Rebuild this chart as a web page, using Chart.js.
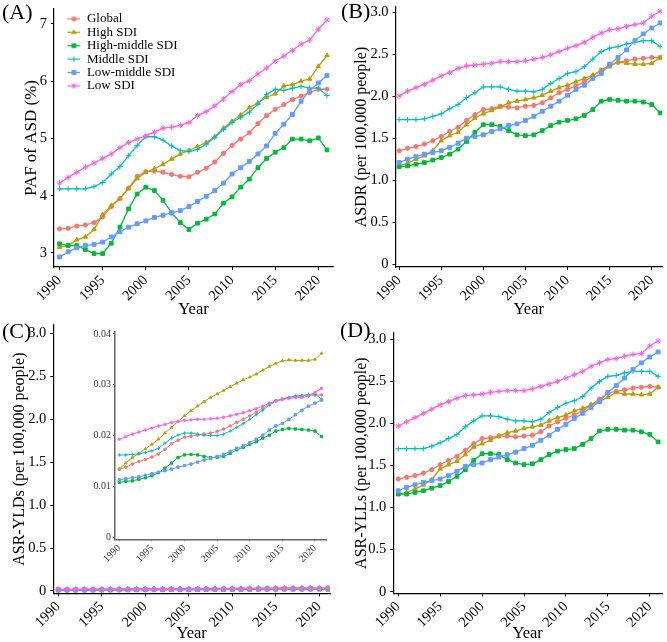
<!DOCTYPE html>
<html>
<head>
<meta charset="utf-8">
<title>ASD burden by SDI</title>
<script src="https://cdn.jsdelivr.net/npm/chart.js@4.4.1/dist/chart.umd.min.js"></script>
<style>
  body { margin: 0; background: #fff; }
  #wrap { position: relative; width: 667px; height: 642px; overflow: hidden; font-family: 'Liberation Serif', 'Times New Roman', serif; }
  #wrap canvas { position: absolute; }
  .tag { position: absolute; font-size: 22px; line-height: 22px; color: #000; }
</style>
</head>
<body>
<div id="wrap">
  <canvas id="chartA" width="340" height="318" style="left:0;top:0"></canvas>
  <canvas id="chartB" width="337" height="318" style="left:330px;top:0"></canvas>
  <canvas id="chartC" width="340" height="332" style="left:0;top:310px"></canvas>
  <canvas id="chartD" width="337" height="332" style="left:330px;top:310px"></canvas>
  <canvas id="chartInset" width="270" height="255" style="left:70px;top:325px"></canvas>
  <div class="tag" style="left:2px;top:1px">(A)</div>
  <div class="tag" style="left:341px;top:0px">(B)</div>
  <div class="tag" style="left:2px;top:320px">(C)</div>
  <div class="tag" style="left:340px;top:319px">(D)</div>
</div>
<script>
// categorias y series
const years = [1990, 1991, 1992, 1993, 1994, 1995, 1996, 1997, 1998, 1999, 2000, 2001, 2002, 2003, 2004, 2005,
    2006, 2007, 2008, 2009, 2010, 2011, 2012, 2013, 2014, 2015, 2016, 2017, 2018, 2019, 2020, 2021];
const regions = ['Global', 'High SDI', 'High-middle SDI', 'Middle SDI', 'Low-middle SDI', 'Low SDI'];
const yearTicks = [1990, 1995, 2000, 2005, 2010, 2015, 2020];

// (A) PAF of ASD (%)
const pafGlobal = [3.42, 3.43, 3.47, 3.49, 3.53, 3.63, 3.81, 3.95, 4.13, 4.34, 4.42, 4.43, 4.41, 4.37, 4.34, 4.33, 4.41, 4.48, 4.59, 4.74, 4.88, 4.99, 5.10, 5.26, 5.40, 5.51, 5.59, 5.68, 5.74, 5.80, 5.86, 5.86];
const pafHigh = [3.10, 3.13, 3.23, 3.28, 3.41, 3.67, 3.83, 3.95, 4.13, 4.30, 4.41, 4.47, 4.55, 4.64, 4.73, 4.79, 4.86, 4.93, 5.03, 5.18, 5.30, 5.41, 5.54, 5.62, 5.72, 5.78, 5.92, 5.94, 6.00, 6.04, 6.26, 6.45];
const pafHighMiddle = [3.16, 3.13, 3.13, 3.06, 2.99, 2.99, 3.17, 3.45, 3.77, 4.03, 4.15, 4.09, 3.92, 3.70, 3.53, 3.41, 3.52, 3.59, 3.68, 3.87, 3.98, 4.15, 4.29, 4.49, 4.65, 4.76, 4.84, 4.99, 4.99, 4.96, 5.01, 4.80];
const pafMiddle = [4.12, 4.12, 4.12, 4.12, 4.16, 4.23, 4.38, 4.51, 4.70, 4.88, 5.03, 5.03, 4.97, 4.87, 4.79, 4.77, 4.81, 4.90, 5.02, 5.16, 5.28, 5.37, 5.46, 5.60, 5.77, 5.86, 5.84, 5.88, 5.91, 5.88, 5.88, 5.75];
const pafLowMiddle = [2.93, 3.02, 3.09, 3.13, 3.15, 3.19, 3.28, 3.37, 3.45, 3.51, 3.56, 3.62, 3.66, 3.70, 3.74, 3.81, 3.90, 3.99, 4.09, 4.22, 4.38, 4.49, 4.60, 4.73, 4.87, 5.09, 5.25, 5.42, 5.65, 5.84, 5.97, 6.10];
const pafLow = [4.22, 4.32, 4.41, 4.50, 4.57, 4.65, 4.73, 4.84, 4.93, 4.99, 5.05, 5.11, 5.18, 5.20, 5.23, 5.28, 5.40, 5.47, 5.57, 5.69, 5.82, 5.94, 6.01, 6.13, 6.23, 6.35, 6.44, 6.54, 6.65, 6.72, 6.91, 7.07];

// (B) ASDR
const asdrGlobal = [1.35, 1.38, 1.40, 1.43, 1.47, 1.52, 1.58, 1.63, 1.71, 1.78, 1.84, 1.85, 1.88, 1.87, 1.86, 1.88, 1.89, 1.92, 1.98, 2.04, 2.08, 2.12, 2.17, 2.24, 2.31, 2.37, 2.40, 2.42, 2.44, 2.45, 2.46, 2.46];
const asdrHigh = [1.17, 1.20, 1.25, 1.29, 1.35, 1.47, 1.53, 1.57, 1.66, 1.74, 1.79, 1.83, 1.87, 1.92, 1.94, 1.96, 1.98, 2.01, 2.06, 2.10, 2.13, 2.17, 2.21, 2.25, 2.30, 2.35, 2.41, 2.39, 2.38, 2.38, 2.39, 2.46];
const asdrHighMiddle = [1.16, 1.17, 1.19, 1.21, 1.24, 1.27, 1.31, 1.37, 1.46, 1.57, 1.66, 1.66, 1.64, 1.59, 1.54, 1.53, 1.54, 1.59, 1.65, 1.69, 1.71, 1.73, 1.77, 1.84, 1.94, 1.96, 1.95, 1.94, 1.94, 1.93, 1.90, 1.80];
const asdrMiddle = [1.72, 1.72, 1.72, 1.73, 1.76, 1.79, 1.85, 1.90, 1.98, 2.04, 2.11, 2.11, 2.11, 2.08, 2.06, 2.06, 2.05, 2.08, 2.15, 2.21, 2.27, 2.29, 2.35, 2.44, 2.53, 2.57, 2.59, 2.62, 2.64, 2.66, 2.66, 2.59];
const asdrLowMiddle = [1.21, 1.25, 1.28, 1.31, 1.33, 1.35, 1.39, 1.44, 1.50, 1.52, 1.54, 1.58, 1.61, 1.65, 1.67, 1.71, 1.76, 1.82, 1.88, 1.94, 2.01, 2.08, 2.13, 2.21, 2.27, 2.38, 2.46, 2.55, 2.66, 2.74, 2.81, 2.87];
const asdrLow = [2.00, 2.06, 2.10, 2.14, 2.19, 2.24, 2.28, 2.33, 2.36, 2.37, 2.38, 2.39, 2.41, 2.41, 2.41, 2.42, 2.44, 2.46, 2.49, 2.53, 2.57, 2.60, 2.64, 2.70, 2.75, 2.79, 2.80, 2.83, 2.85, 2.87, 2.95, 3.01];

// (C) ASR-YLDs
const yldGlobal = [0.0134, 0.0138, 0.0144, 0.0149, 0.0153, 0.0158, 0.0164, 0.0173, 0.0184, 0.0191, 0.0197, 0.0199, 0.0201, 0.0203, 0.0205, 0.0208, 0.0213, 0.0219, 0.0226, 0.0232, 0.0239, 0.0246, 0.0254, 0.0262, 0.0269, 0.0272, 0.0275, 0.0277, 0.0278, 0.0279, 0.0280, 0.0280];
const yldHigh = [0.0134, 0.0146, 0.0157, 0.0165, 0.0174, 0.0183, 0.0193, 0.0205, 0.0216, 0.0228, 0.0239, 0.0249, 0.0258, 0.0267, 0.0275, 0.0282, 0.0289, 0.0296, 0.0303, 0.0310, 0.0315, 0.0321, 0.0329, 0.0336, 0.0342, 0.0347, 0.0349, 0.0348, 0.0348, 0.0348, 0.0350, 0.0362];
const yldHighMiddle = [0.0108, 0.0110, 0.0111, 0.0114, 0.0117, 0.0121, 0.0127, 0.0136, 0.0146, 0.0157, 0.0162, 0.0163, 0.0162, 0.0159, 0.0157, 0.0157, 0.0159, 0.0165, 0.0172, 0.0177, 0.0183, 0.0188, 0.0195, 0.0201, 0.0209, 0.0212, 0.0214, 0.0213, 0.0212, 0.0211, 0.0209, 0.0198];
const yldMiddle = [0.0162, 0.0162, 0.0163, 0.0164, 0.0167, 0.0170, 0.0175, 0.0185, 0.0195, 0.0201, 0.0205, 0.0205, 0.0203, 0.0201, 0.0200, 0.0200, 0.0203, 0.0209, 0.0216, 0.0224, 0.0232, 0.0241, 0.0250, 0.0260, 0.0268, 0.0272, 0.0275, 0.0278, 0.0279, 0.0281, 0.0282, 0.0272];
const yldLowMiddle = [0.0113, 0.0115, 0.0117, 0.0119, 0.0122, 0.0125, 0.0128, 0.0131, 0.0134, 0.0138, 0.0141, 0.0144, 0.0148, 0.0152, 0.0155, 0.0159, 0.0163, 0.0169, 0.0175, 0.0180, 0.0186, 0.0193, 0.0201, 0.0211, 0.0219, 0.0224, 0.0232, 0.0241, 0.0250, 0.0258, 0.0264, 0.0270];
const yldLow = [0.0193, 0.0198, 0.0203, 0.0207, 0.0211, 0.0215, 0.0219, 0.0222, 0.0226, 0.0228, 0.0230, 0.0231, 0.0232, 0.0232, 0.0233, 0.0234, 0.0236, 0.0239, 0.0242, 0.0245, 0.0249, 0.0253, 0.0258, 0.0264, 0.0268, 0.0271, 0.0273, 0.0275, 0.0275, 0.0278, 0.0285, 0.0293];

// (D) ASR-YLLs
const yllGlobal = [1.34, 1.36, 1.38, 1.41, 1.45, 1.51, 1.56, 1.61, 1.68, 1.76, 1.82, 1.83, 1.85, 1.85, 1.84, 1.85, 1.86, 1.90, 1.97, 2.02, 2.06, 2.10, 2.15, 2.22, 2.29, 2.36, 2.38, 2.40, 2.42, 2.43, 2.44, 2.43];
const yllHigh = [1.16, 1.18, 1.22, 1.27, 1.33, 1.46, 1.51, 1.55, 1.63, 1.72, 1.76, 1.80, 1.85, 1.89, 1.91, 1.94, 1.96, 1.98, 2.03, 2.07, 2.10, 2.15, 2.18, 2.22, 2.26, 2.31, 2.37, 2.35, 2.35, 2.34, 2.35, 2.43];
const yllHighMiddle = [1.16, 1.16, 1.18, 1.20, 1.23, 1.26, 1.31, 1.37, 1.45, 1.56, 1.64, 1.64, 1.63, 1.57, 1.53, 1.51, 1.52, 1.57, 1.63, 1.67, 1.69, 1.70, 1.75, 1.82, 1.91, 1.93, 1.93, 1.92, 1.92, 1.90, 1.87, 1.78];
const yllMiddle = [1.70, 1.70, 1.70, 1.70, 1.73, 1.77, 1.82, 1.87, 1.96, 2.03, 2.09, 2.09, 2.08, 2.05, 2.03, 2.03, 2.02, 2.05, 2.13, 2.19, 2.24, 2.27, 2.32, 2.42, 2.50, 2.56, 2.57, 2.60, 2.62, 2.62, 2.62, 2.56];
const yllLowMiddle = [1.20, 1.24, 1.27, 1.30, 1.32, 1.34, 1.38, 1.43, 1.49, 1.51, 1.53, 1.57, 1.60, 1.63, 1.66, 1.70, 1.74, 1.80, 1.86, 1.93, 1.99, 2.06, 2.12, 2.19, 2.26, 2.37, 2.45, 2.54, 2.64, 2.72, 2.79, 2.85];
const yllLow = [1.97, 2.02, 2.07, 2.12, 2.17, 2.22, 2.26, 2.30, 2.33, 2.34, 2.35, 2.37, 2.38, 2.39, 2.39, 2.39, 2.41, 2.44, 2.47, 2.50, 2.54, 2.58, 2.62, 2.68, 2.72, 2.76, 2.77, 2.80, 2.82, 2.83, 2.92, 2.98];

// ticks
const pafTicks = [3, 4, 5, 6, 7];
const pafTickLabels = ['3', '4', '5', '6', '7'];
const rateTicks = [0, 0.5, 1, 1.5, 2, 2.5, 3];
const rateTickLabels = ['0', '0.5', '1.0', '1.5', '2.0', '2.5', '3.0'];
const insetTicks = [0, 0.01, 0.02, 0.03, 0.04];
const insetTickLabels = ['0', '0.01', '0.02', '0.03', '0.04'];

// estilos
const colors = ['#F8766D', '#B79F00', '#00BA38', '#00BFC4', '#619CFF', '#F564E3'];
const pointStyles = ['circle', 'triangle', 'rect', 'cross', 'rect', 'star'];
const pointScale = [1, 1.2, 1.25, 1.3, 1.3, 1.35];
const FONT = "'Liberation Serif', 'Times New Roman', serif";

function buildDatasets(series, inset) {
    return series.map((vals, i) => ({
        label: regions[i],
        data: vals.map((v, j) => ({x: years[j], y: v})),
        borderColor: colors[i],
        backgroundColor: colors[i],
        pointStyle: pointStyles[i],
        pointRadius: (inset ? 1.3 : 2.1) * pointScale[i],
        pointBorderWidth: 1,
        borderWidth: inset ? 1 : 1.3,
        tension: 0,
        order: series.length - i
    }));
}

// iconos de la leyenda: linea + marcador
function makeIcon(i) {
    const c = document.createElement('canvas');
    c.width = 26;
    c.height = 13;
    const ctx = c.getContext('2d');
    ctx.strokeStyle = colors[i];
    ctx.fillStyle = colors[i];
    ctx.lineWidth = 1.3;
    ctx.beginPath();
    ctx.moveTo(13, 6.5);
    ctx.lineTo(26, 6.5);
    ctx.stroke();
    ctx.lineWidth = 1;
    if (Chart.helpers && Chart.helpers.drawPoint) {
        Chart.helpers.drawPoint(ctx, {pointStyle: pointStyles[i], radius: 2.1 * pointScale[i], borderWidth: 1, rotation: 0}, 19.5, 6.5);
    } else {
        ctx.beginPath();
        ctx.arc(19.5, 6.5, 2.2, 0, Math.PI * 2);
        ctx.fill();
    }
    return c;
}
const legendIcons = regions.map((r, i) => makeIcon(i));

function makeChart(id, series, cfg) {
    const axisColor = cfg.inset ? '#666' : '#000';
    const tickColor = cfg.inset ? '#333' : '#000';
    const tickSize = cfg.inset ? 10 : 14.5;
    const ctx = document.getElementById(id).getContext('2d');
    return new Chart(ctx, {
        type: 'line',
        data: {datasets: buildDatasets(series, cfg.inset)},
        options: {
            responsive: false,
            animation: false,
            devicePixelRatio: 1,
            layout: {padding: cfg.padding},
            plugins: {
                tooltip: {enabled: false},
                legend: cfg.legend ? {
                    display: true,
                    position: 'chartArea',
                    align: 'start',
                    // titulo vacio solo para bajar la leyenda
                    title: {display: true, text: ' ', font: {size: 1, lineHeight: 1}, padding: {top: 11, bottom: 0}},
                    labels: {
                        usePointStyle: true,
                        pointStyleWidth: 26,
                        boxHeight: 13,
                        padding: 0.4,
                        color: '#000',
                        font: {family: FONT, size: 13},
                        sort: (a, b) => a.datasetIndex - b.datasetIndex,
                        generateLabels: chart => Chart.defaults.plugins.legend.labels.generateLabels(chart)
                            .map(it => Object.assign(it, {pointStyle: legendIcons[it.datasetIndex]}))
                    }
                } : {display: false}
            },
            scales: {
                x: {
                    type: 'linear',
                    min: cfg.xMin,
                    max: cfg.xMax,
                    afterBuildTicks: s => { s.ticks = yearTicks.map(v => ({value: v})); },
                    afterFit: s => { s.height = cfg.xH; s.paddingLeft = 0; s.paddingRight = 0; },
                    ticks: {
                        autoSkip: false,
                        minRotation: 45,
                        maxRotation: 45,
                        padding: cfg.inset ? 1 : 2,
                        color: tickColor,
                        font: {family: FONT, size: tickSize},
                        callback: v => String(v)
                    },
                    grid: {drawOnChartArea: false, drawTicks: true, tickLength: cfg.inset ? 2 : 3, color: axisColor},
                    border: {display: true, color: axisColor, width: cfg.inset ? 1.5 : 1.2},
                    title: {
                        display: !cfg.inset,
                        text: 'Year',
                        color: '#000',
                        padding: 0,
                        font: {family: FONT, size: 16.5, lineHeight: 1}
                    }
                },
                y: {
                    type: 'linear',
                    min: cfg.yMin,
                    max: cfg.yMax,
                    afterBuildTicks: s => { s.ticks = cfg.yTicks.map(v => ({value: v})); },
                    afterFit: s => { s.width = cfg.yW; s.paddingTop = 0; s.paddingBottom = 0; },
                    ticks: {
                        padding: cfg.inset ? 2 : 4,
                        color: tickColor,
                        font: {family: FONT, size: tickSize},
                        callback: (v, i) => cfg.yLabels[i]
                    },
                    grid: {drawOnChartArea: false, drawTicks: true, tickLength: cfg.inset ? 2 : 3, color: axisColor},
                    border: {display: true, color: axisColor, width: cfg.inset ? 1.5 : 1.2},
                    title: {
                        display: !!cfg.yTitle,
                        text: cfg.yTitle,
                        color: '#000',
                        padding: 0,
                        font: {family: FONT, size: cfg.yTitleSize || 16, lineHeight: 1}
                    }
                }
            }
        }
    });
}

// (A)
makeChart('chartA', [pafGlobal, pafHigh, pafHighMiddle, pafMiddle, pafLowMiddle, pafLow], {
    padding: {left: 23, top: 9, right: 7, bottom: 0}, yW: 31, xH: 51,
    xMin: 1989.36, xMax: 2021.7, yMin: 2.755, yMax: 7.262,
    yTicks: pafTicks, yLabels: pafTickLabels, yTitle: 'PAF of ASD (%)', yTitleSize: 17, legend: true
});

// (B)
makeChart('chartB', [asdrGlobal, asdrHigh, asdrHighMiddle, asdrMiddle, asdrLowMiddle, asdrLow], {
    padding: {left: 24, top: 7, right: 4, bottom: 0}, yW: 41.5, xH: 51,
    xMin: 1989.57, xMax: 2021.22, yMin: -0.032, yMax: 3.06,
    yTicks: rateTicks, yLabels: rateTickLabels, yTitle: 'ASDR (per 100,000 people)'
});

// (C) panel completo
makeChart('chartC', [yldGlobal, yldHigh, yldHighMiddle, yldMiddle, yldLowMiddle, yldLow], {
    padding: {left: 12, top: 15, right: 10, bottom: 0}, yW: 41.3, xH: 48.7,
    xMin: 1989.43, xMax: 2021.23, yMin: -0.027, yMax: 3.097,
    yTicks: rateTicks, yLabels: rateTickLabels, yTitle: 'ASR-YLDs (per 100,000 people)'
});

// (D)
makeChart('chartD', [yllGlobal, yllHigh, yllHighMiddle, yllMiddle, yllLowMiddle, yllLow], {
    padding: {left: 23.7, top: 23, right: 4, bottom: 0}, yW: 39.6, xH: 48.7,
    xMin: 1989.41, xMax: 2021.46, yMin: -0.019, yMax: 3.075,
    yTicks: rateTicks, yLabels: rateTickLabels, yTitle: 'ASR-YLLs (per 100,000 people)'
});

// (C) recuadro ampliado
makeChart('chartInset', [yldGlobal, yldHigh, yldHighMiddle, yldMiddle, yldLowMiddle, yldLow], {
    padding: {left: 0, top: 6.7, right: 14, bottom: 0}, yW: 45, xH: 40.7,
    xMin: 1989.34, xMax: 2021.69, yMin: -0.0004, yMax: 0.04045,
    yTicks: insetTicks, yLabels: insetTickLabels, inset: true
});
</script>
</body>
</html>
